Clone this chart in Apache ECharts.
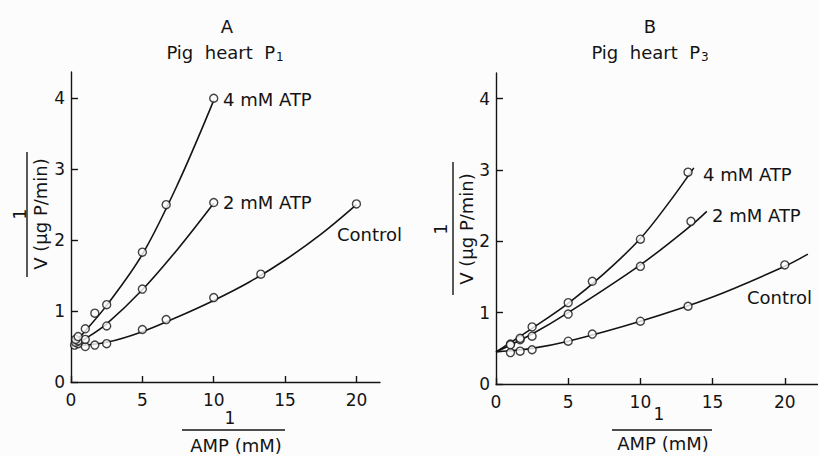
<!DOCTYPE html>
<html><head><meta charset="utf-8">
<script src="https://cdn.jsdelivr.net/npm/echarts@6/dist/echarts.min.js"></script>
<style>html,body{margin:0;padding:0;background:#fcfcfc;}#c{width:818px;height:456px;}</style>
</head><body><div id="c"></div>
<script>
// ---- tick labels ----
const xTicks = [0, 5, 10, 15, 20];
const yTicks = [0, 1, 2, 3, 4];

// ---- Panel A: Pig heart P1 (measured points) ----
const ctrlA_x = [0.25, 0.5, 1, 1.67, 2.5, 5, 6.67, 10, 13.3, 20];
const ctrlA_y = [0.52, 0.54, 0.50, 0.52, 0.54, 0.74, 0.88, 1.19, 1.52, 2.51];
const atp2A_x = [0.33, 0.5, 1, 2.5, 5, 10];
const atp2A_y = [0.56, 0.58, 0.60, 0.79, 1.31, 2.53];
const atp4A_x = [0.33, 0.5, 1, 1.67, 2.5, 5, 6.67, 10];
const atp4A_y = [0.60, 0.64, 0.75, 0.97, 1.09, 1.83, 2.50, 4.0];
// fitted curves A
const ctrlA_cx = [0, 2.5, 5, 7.5, 10, 12.5, 15, 17.5, 20];
const ctrlA_cy = [0.50, 0.56, 0.71, 0.92, 1.15, 1.41, 1.72, 2.08, 2.50];
const atp2A_cx = [0, 1, 2.5, 5, 7.5, 10];
const atp2A_cy = [0.50, 0.61, 0.82, 1.30, 1.88, 2.52];
const atp4A_cx = [0, 1, 2.5, 5, 7.5, 10];
const atp4A_cy = [0.50, 0.72, 1.08, 1.80, 2.80, 3.97];

// ---- Panel B: Pig heart P3 (measured points) ----
const ctrlB_x = [1, 1.67, 2.5, 5, 6.67, 10, 13.3, 20];
const ctrlB_y = [0.44, 0.46, 0.48, 0.60, 0.70, 0.88, 1.09, 1.67];
const atp2B_x = [1, 1.67, 2.5, 5, 10, 13.5];
const atp2B_y = [0.56, 0.62, 0.67, 0.98, 1.65, 2.28];
const atp4B_x = [1, 1.67, 2.5, 5, 6.67, 10, 13.3];
const atp4B_y = [0.55, 0.64, 0.80, 1.14, 1.44, 2.03, 2.97];
// fitted curves B
const ctrlB_cx = [0, 2.5, 5, 10, 15, 20, 21.6];
const ctrlB_cy = [0.45, 0.50, 0.60, 0.88, 1.22, 1.65, 1.82];
const atp2B_cx = [0, 2.5, 5, 10, 13.5, 14.6];
const atp2B_cy = [0.45, 0.70, 1.00, 1.67, 2.22, 2.42];
const atp4B_cx = [0, 2.5, 5, 7.5, 10, 12, 13.7];
const atp4B_cy = [0.45, 0.78, 1.13, 1.55, 2.04, 2.55, 3.03];

const FONT = 'DejaVu Sans';
const INK = '#141414';
const BG = '#fcfcfc';
const zip = (xs, ys) => xs.map((x, i) => [x, ys[i]]);

function xAx(g, max) {
  return {
    type: 'value', gridIndex: g, min: 0, max: max,
    axisLine: { onZero: false, lineStyle: { color: INK, width: 1.4 } },
    axisTick: { inside: true, length: 6, customValues: xTicks, lineStyle: { color: INK, width: 1.4 } },
    axisLabel: { customValues: xTicks, fontSize: 17, color: INK, fontFamily: FONT, margin: 9 },
    splitLine: { show: false }
  };
}
function yAx(g, max) {
  return {
    type: 'value', gridIndex: g, min: 0, max: max,
    axisLine: { onZero: false, lineStyle: { color: INK, width: 1.4 } },
    axisTick: { inside: true, length: 7, customValues: yTicks, lineStyle: { color: INK, width: 1.4 } },
    axisLabel: { customValues: yTicks, fontSize: 17, color: INK, fontFamily: FONT, margin: 6 },
    splitLine: { show: false }
  };
}
function curve(g, xs, ys) {
  return { type: 'line', xAxisIndex: g, yAxisIndex: g, data: zip(xs, ys), smooth: 0.35,
    showSymbol: false, symbol: 'none', lineStyle: { color: INK, width: 1.6 }, z: 2, silent: true };
}
function pts(g, xs, ys) {
  return { type: 'scatter', xAxisIndex: g, yAxisIndex: g, data: zip(xs, ys), symbol: 'circle', symbolSize: 8,
    itemStyle: { color: BG, borderColor: INK, borderWidth: 1.4 }, z: 3, silent: true };
}
function txt(x, y, s, opts) {
  return { type: 'text', x: x, y: y, style: Object.assign({ text: s, fontSize: 17, fontFamily: FONT, fill: INK, textAlign: 'center', textVerticalAlign: 'middle' }, opts || {}) };
}
function rtxt(x, y, s, opts) {
  const t = txt(x, y, s, opts); t.rotation = Math.PI / 2; return t;
}
function seg(x1, y1, x2, y2) {
  return { type: 'line', shape: { x1: x1, y1: y1, x2: x2, y2: y2 }, style: { stroke: INK, lineWidth: 1.4 } };
}
const subRich = { sub: { fontSize: 12, fontFamily: FONT, color: INK, verticalAlign: 'bottom', padding: [9, 0, 0, 1] } };
const titleStyle = { fontSize: 18, fontWeight: 'normal', fontFamily: FONT, color: INK, rich: subRich };

const chart = echarts.init(document.getElementById('c'), null, { renderer: 'svg' });
chart.setOption({
  animation: false,
  backgroundColor: BG,
  grid: [
    { left: 71, top: 72, width: 309, height: 310 },
    { left: 496, top: 73, width: 322, height: 311 }
  ],
  xAxis: [xAx(0, 21.65), xAx(1, 22.3)],
  yAxis: [yAx(0, 4.37), yAx(1, 4.36)],
  title: [
    { text: 'A', left: 222, top: 12, textAlign: 'center', textStyle: titleStyle },
    { text: 'Pig  heart  P{sub|1}', left: 220, top: 37, textAlign: 'center', textStyle: titleStyle },
    { text: 'B', left: 645, top: 12, textAlign: 'center', textStyle: titleStyle },
    { text: 'Pig  heart  P{sub|3}', left: 645, top: 37, textAlign: 'center', textStyle: titleStyle }
  ],
  series: [
    curve(0, ctrlA_cx, ctrlA_cy), curve(0, atp2A_cx, atp2A_cy), curve(0, atp4A_cx, atp4A_cy),
    pts(0, ctrlA_x, ctrlA_y), pts(0, atp2A_x, atp2A_y), pts(0, atp4A_x, atp4A_y),
    curve(1, ctrlB_cx, ctrlB_cy), curve(1, atp2B_cx, atp2B_cy), curve(1, atp4B_cx, atp4B_cy),
    pts(1, ctrlB_x, ctrlB_y), pts(1, atp2B_x, atp2B_y), pts(1, atp4B_x, atp4B_y)
  ],
  graphic: [
    // series labels A
    txt(223, 99, '4 mM ATP', { textAlign: 'left', fontSize: 18 }),
    txt(223, 202, '2 mM ATP', { textAlign: 'left', fontSize: 18 }),
    txt(337, 234, 'Control', { textAlign: 'left', fontSize: 18 }),
    // series labels B
    txt(703, 174, '4 mM ATP', { textAlign: 'left', fontSize: 18 }),
    txt(712, 215, '2 mM ATP', { textAlign: 'left', fontSize: 18 }),
    txt(747, 297, 'Control', { textAlign: 'left', fontSize: 18 }),
    // y axis name A (fraction)
    rtxt(20, 214, '1'),
    seg(27, 152, 27, 277),
    rtxt(40, 214, 'V (µg P/min)', { fontSize: 18 }),
    // y axis name B
    rtxt(441, 229, '1'),
    seg(453, 162, 453, 295),
    rtxt(466, 229, 'V (µg P/min)', { fontSize: 18 }),
    // x axis name A
    txt(230, 418, '1'),
    seg(182, 430, 285, 430),
    txt(236, 445, 'AMP (mM)', { fontSize: 18 }),
    // x axis name B
    txt(659, 414, '1'),
    seg(612, 430, 712, 430),
    txt(663, 443, 'AMP (mM)', { fontSize: 18 })
  ]
});
</script></body></html>
